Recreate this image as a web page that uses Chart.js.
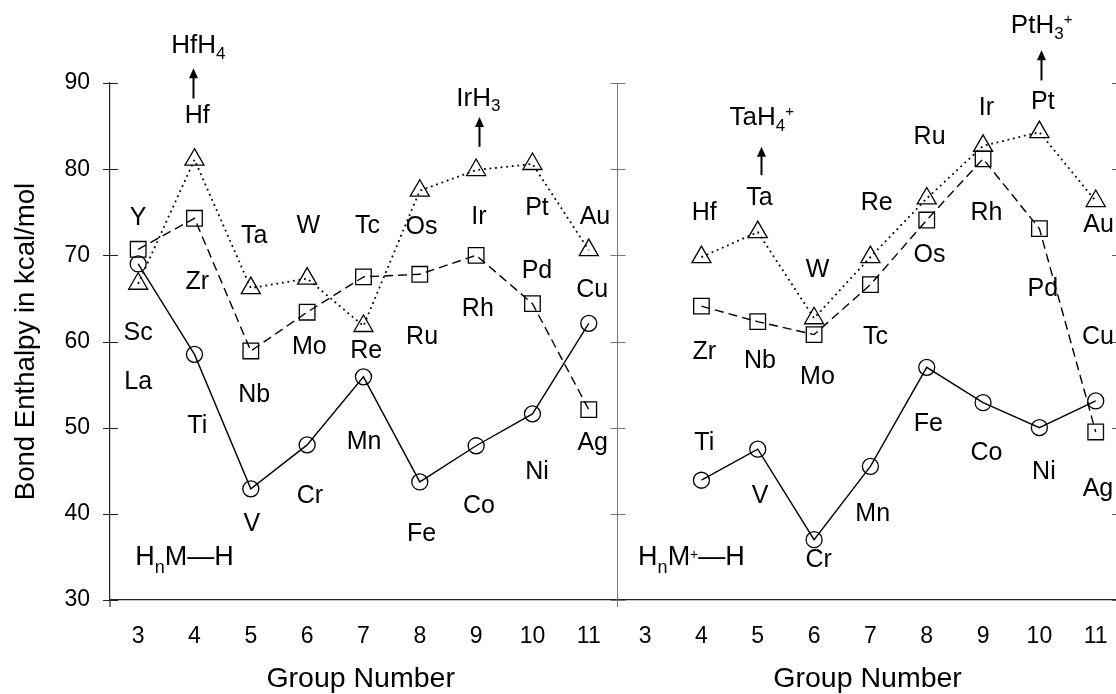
<!DOCTYPE html>
<html><head><meta charset="utf-8">
<script src="https://cdn.jsdelivr.net/npm/chart.js@4.4.1/dist/chart.umd.min.js"></script>
<style>html,body{margin:0;padding:0;background:#fff;} canvas{display:block;}</style>
</head><body>
<canvas id="c" width="1116" height="694"></canvas>
<script>
const FONT = '"Liberation Sans", Arial, Helvetica, sans-serif';

// ---- data ----
const groupsLeft  = [3, 4, 5, 6, 7, 8, 9, 10, 11];
const firstRowNeutral  = [69.0, 58.5, 42.9, 48.0, 55.9, 43.7, 47.9, 51.6, 62.1];
const secondRowNeutral = [70.7, 74.3, 58.9, 63.4, 67.5, 67.8, 70.0, 64.4, 52.1];
const thirdRowNeutral  = [66.7, 81.1, 66.2, 67.3, 61.8, 77.5, 79.9, 80.6, 70.6];

const groupsRight = [4, 5, 6, 7, 8, 9, 10, 11];
const firstRowCation  = [43.9, 47.5, 37.0, 45.5, 57.0, 52.9, 50.0, 53.1];
const secondRowCation = [64.1, 62.3, 60.8, 66.6, 74.1, 81.2, 73.1, 49.5];
const thirdRowCation  = [69.8, 72.7, 62.7, 69.8, 76.6, 82.7, 84.3, 76.3];

const groupTickLabels = [3, 4, 5, 6, 7, 8, 9, 10, 11];
const yTickValues = [30, 40, 50, 60, 70, 80, 90];
const PANEL_OFFSET = 9;

// element labels: [text, group, value]
const labelsLeft = [
  ['Y',3,74.3],['Sc',3,61.0],['La',3,55.3],
  ['Hf',4.05,86.2],['Zr',4.05,66.9],['Ti',4.05,50.2],
  ['Ta',5.06,72.2],['Nb',5.06,53.8],['V',5.02,38.8],
  ['W',6.02,73.4],['Mo',6.04,59.4],['Cr',6.05,42.1],
  ['Tc',7.07,73.4],['Re',7.05,58.9],['Mn',7.01,48.3],
  ['Os',8.03,73.3],['Ru',8.04,60.5],['Fe',8.03,37.7],
  ['Ir',9.05,74.4],['Rh',9.03,63.8],['Co',9.05,40.9],
  ['Pt',10.08,75.5],['Pd',10.08,68.2],['Ni',10.08,44.9],
  ['Au',11.11,74.4],['Cu',11.06,66.0],['Ag',11.07,48.2]
];
const labelsRight = [
  ['Hf',4.05,74.9],['Zr',4.05,58.8],['Ti',4.05,48.2],
  ['Ta',5.03,76.65],['Nb',5.04,57.7],['V',5.04,42.0],
  ['W',6.06,68.3],['Mo',6.06,55.9],['Cr',6.08,34.6],
  ['Re',7.11,76.1],['Tc',7.09,60.5],['Mn',7.04,40.0],
  ['Ru',8.05,83.7],['Os',8.05,70.0],['Fe',8.03,50.4],
  ['Ir',9.06,87.1],['Rh',9.06,74.9],['Co',9.06,47.1],
  ['Pt',10.06,87.8],['Pd',10.06,66.1],['Ni',10.08,44.9],
  ['Au',11.05,73.5],['Cu',11.04,60.5],['Ag',11.04,42.9]
];
// arrows: [group, fromValue, toValue, panelOffset]
const arrows = [
  [3.97, 88.2, 91.7, 0], [9.05, 82.6, 86.05, 0],
  [5.06, 79.3, 82.6, PANEL_OFFSET], [10.02, 90.3, 93.8, PANEL_OFFSET]
];

// ---- datasets ----
function series(label, groups, vals, offset, style) {
  return Object.assign({
    label,
    data: groups.map((g, i) => ({x: g + offset, y: vals[i]})),
    borderColor: '#000', pointBorderColor: '#000',
    pointBackgroundColor: 'rgba(0,0,0,0)', fill: false, tension: 0
  }, style);
}
const circleStyle = {borderWidth: 1.4, pointStyle: 'circle', pointRadius: 8, pointBorderWidth: 1.3};
const squareStyle = {borderWidth: 1.4, borderDash: [9, 5], pointStyle: 'rect', pointRadius: 11, pointBorderWidth: 1.3};
const triStyle = {borderWidth: 1.8, borderDash: [1.8, 3.8], pointStyle: 'triangle', pointRadius: 11, pointBorderWidth: 1.3};

const datasets = [
  series('1st row', groupsLeft, firstRowNeutral, 0, circleStyle),
  series('2nd row', groupsLeft, secondRowNeutral, 0, squareStyle),
  series('3rd row', groupsLeft, thirdRowNeutral, 0, triStyle),
  series('1st row +', groupsRight, firstRowCation, PANEL_OFFSET, circleStyle),
  series('2nd row +', groupsRight, secondRowCation, PANEL_OFFSET, squareStyle),
  series('3rd row +', groupsRight, thirdRowCation, PANEL_OFFSET, triStyle)
];

const allXTicks = groupTickLabels.concat(groupTickLabels.map(g => g + PANEL_OFFSET));

function drawRich(ctx, segs, x, y, align) {
  let total = 0;
  const widths = segs.map(s => {
    ctx.font = s.size + 'px ' + FONT;
    const w = ctx.measureText(s.t).width;
    total += w; return w;
  });
  let cx = align === 'center' ? x - total / 2 : x;
  ctx.textAlign = 'left';
  ctx.textBaseline = 'alphabetic';
  segs.forEach((s, i) => {
    ctx.font = s.size + 'px ' + FONT;
    ctx.fillText(s.t, cx, y - (s.rise || 0));
    cx += widths[i];
  });
}

const deco = {
  id: 'deco',
  afterDraw(chart) {
    const ctx = chart.ctx, xs = chart.scales.x, ys = chart.scales.y;
    const ca = chart.chartArea;
    ctx.save();
    // left axis ticks (crossing) and extension
    ctx.strokeStyle = '#222'; ctx.lineWidth = 1.2;
    ctx.beginPath();
    yTickValues.forEach(v => {
      const py = Math.round(ys.getPixelForValue(v)) + 0.5;
      ctx.moveTo(ca.left - 7, py); ctx.lineTo(ca.left + 8, py);
    });
    ctx.moveTo(ca.left, ca.bottom); ctx.lineTo(ca.left, ca.bottom + 7);
    ctx.stroke();
    // divider between panels
    const dx = Math.round(xs.getPixelForValue(11.5)) + 0.5;
    ctx.strokeStyle = '#777'; ctx.lineWidth = 1;
    ctx.beginPath();
    ctx.moveTo(dx, ca.top); ctx.lineTo(dx, ca.bottom + 7);
    yTickValues.forEach(v => {
      const py = Math.round(ys.getPixelForValue(v)) + 0.5;
      ctx.moveTo(dx - 7, py); ctx.lineTo(dx + 8, py);
    });
    ctx.stroke();
    // right edge tick stubs
    ctx.strokeStyle = '#555';
    ctx.beginPath();
    yTickValues.forEach(v => {
      const py = Math.round(ys.getPixelForValue(v)) + 0.5;
      ctx.moveTo(chart.width - 4, py); ctx.lineTo(chart.width, py);
    });
    ctx.stroke();

    // element labels
    ctx.fillStyle = '#000';
    ctx.font = '25px ' + FONT;
    ctx.textAlign = 'center'; ctx.textBaseline = 'middle';
    labelsLeft.forEach(([t, g, v]) => ctx.fillText(t, xs.getPixelForValue(g), ys.getPixelForValue(v)));
    labelsRight.forEach(([t, g, v]) => ctx.fillText(t, xs.getPixelForValue(g + PANEL_OFFSET), ys.getPixelForValue(v)));

    // formula annotations
    const P = (g, off) => xs.getPixelForValue(g + off);
    drawRich(ctx, [{t:'HfH', size:26}, {t:'4', size:17, rise:-6}], P(4.07, 0), ys.getPixelForValue(93.5), 'center');
    drawRich(ctx, [{t:'IrH', size:26}, {t:'3', size:17, rise:-5}], P(9.04, 0), ys.getPixelForValue(87.3), 'center');
    drawRich(ctx, [{t:'TaH', size:26}, {t:'4', size:17, rise:-6}, {t:'+', size:15, rise:9}], P(5.07, PANEL_OFFSET), ys.getPixelForValue(85.1), 'center');
    drawRich(ctx, [{t:'PtH', size:26}, {t:'3', size:17, rise:-6}, {t:'+', size:15, rise:9}], P(10.04, PANEL_OFFSET), ys.getPixelForValue(95.8), 'center');
    drawRich(ctx, [{t:'H', size:27}, {t:'n', size:18, rise:-8}, {t:'M—H', size:27}], P(2.95, 0), ys.getPixelForValue(34.06), 'left');
    drawRich(ctx, [{t:'H', size:27}, {t:'n', size:18, rise:-8}, {t:'M', size:27}, {t:'+', size:14, rise:6}, {t:'—H', size:27}], P(2.876, PANEL_OFFSET), ys.getPixelForValue(34.06), 'left');

    // arrows
    ctx.strokeStyle = '#000'; ctx.lineWidth = 2;
    arrows.forEach(([g, from, to, off]) => {
      const ax = Math.round(xs.getPixelForValue(g + off)) + 0.5;
      const y0 = ys.getPixelForValue(from), y1 = ys.getPixelForValue(to);
      ctx.beginPath(); ctx.moveTo(ax, y0); ctx.lineTo(ax, y1 + 8); ctx.stroke();
      ctx.beginPath(); ctx.moveTo(ax, y1); ctx.lineTo(ax - 4.5, y1 + 10); ctx.lineTo(ax + 4.5, y1 + 10); ctx.closePath(); ctx.fill();
    });

    // x titles
    ctx.font = '28.5px ' + FONT;
    ctx.textAlign = 'center'; ctx.textBaseline = 'alphabetic';
    ctx.fillText('Group Number', xs.getPixelForValue(6.95), 687);
    ctx.fillText('Group Number', xs.getPixelForValue(6.95 + PANEL_OFFSET), 687);
    ctx.restore();
  }
};

new Chart(document.getElementById('c'), {
  type: 'line',
  data: {datasets},
  options: {
    responsive: false, devicePixelRatio: 1, animation: false,
    layout: {autoPadding: false, padding: {top: 83, left: 0, right: 0, bottom: 0}},
    plugins: {legend: {display: false}, tooltip: {enabled: false}},
    scales: {
      x: {
        type: 'linear', min: 2.5, max: 20.36,
        afterBuildTicks: s => { s.ticks = allXTicks.map(v => ({value: v})); },
        ticks: {callback: v => v > 11.5 ? v - PANEL_OFFSET : v, font: {family: FONT, size: 23}, color: '#000', padding: 23, autoSkip: false, maxRotation: 0, minRotation: 0},
        grid: {display: false, drawTicks: false},
        border: {display: true, color: '#222', width: 1.2},
        afterFit: s => { s.height = 94; s.paddingLeft = 0; s.paddingRight = 0; }
      },
      y: {
        min: 30, max: 90,
        afterBuildTicks: s => { s.ticks = yTickValues.map(v => ({value: v})); },
        ticks: {font: {family: FONT, size: 23}, color: '#000', padding: 20},
        grid: {display: false, drawTicks: false},
        border: {display: true, color: '#222', width: 1.2},
        title: {display: true, text: 'Bond Enthalpy in kcal/mol', font: {family: FONT, size: 27.6}, color: '#000', padding: {top: 10, bottom: 0}},
        afterFit: s => { s.width = 110; s.paddingTop = 0; s.paddingBottom = 0; }
      }
    }
  },
  plugins: [deco]
});
</script>
</body></html>
